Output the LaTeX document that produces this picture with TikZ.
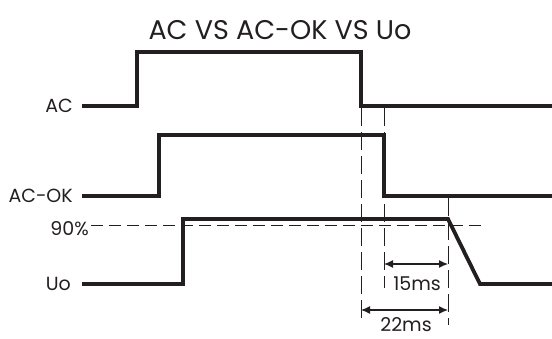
\documentclass[tikz,border=0pt]{standalone}
\usepackage{fontspec}
\setmainfont{Poppins}
\usetikzlibrary{arrows.meta}
\definecolor{ink}{HTML}{231F20}
\begin{document}
\begin{tikzpicture}[x=1pt,y=-1pt,
  sig/.style={line width=3.8pt, line join=miter, draw=ink},
  hguide/.style={line width=0.9pt, draw=ink, dash pattern=on 12pt off 6pt},
  vguide/.style={line width=0.9pt, draw=ink, dash pattern=on 18pt off 6pt},
  dim/.style={line width=1.2pt, draw=ink, {Latex[length=9pt,width=8pt]}-{Latex[length=9pt,width=8pt]}},
  lbl/.style={font=\fontsize{19}{19}\selectfont, text=ink, anchor=east, inner sep=0pt},
  dimlbl/.style={font=\fontsize{19}{19}\selectfont, text=ink, inner sep=0pt, text height=13pt, text depth=0pt, anchor=base}]
\useasboundingbox (0,0) rectangle (552,338);
\node[font=\fontsize{27}{27}\selectfont, text=ink, inner sep=0pt] (title) at (280,30) {AC VS AC-OK VS Uo};
% labels
\node[lbl] (ac) at (73,106) {AC};
\node[lbl] (acok) at (73,196) {AC-OK};
\node[lbl] (p90) at (89,229) {90\%};
\node[lbl] (uo) at (71,284) {Uo};
% signals
\draw[sig] (ac.east) ++(9,0) -- (137,106) -- (137,52) -- (361,52) -- (361,106) -- (552,106);
\draw[sig] (acok.east) ++(9,0) -- (159,196) -- (159,135) -- (384,135) -- (384,196) -- (552,196);
\draw[sig] (uo.east) ++(11,0) -- (183,284) -- (183,219) -- (448,219) -- (480,284) -- (552,284);
% guides
\coordinate (h0) at (91,225);
\coordinate (h1) at (484,225);
\draw[hguide] (h0) -- (h1);
\coordinate (v1a) at (361,108);
\coordinate (v1b) at (361,322);
\coordinate (v2a) at (384,108);
\coordinate (v2b) at (384,288);
\coordinate (v3a) at (448,198);
\coordinate (v3b) at (448,325);
\draw[vguide] (v1a) -- (v1b);
\draw[vguide] (v2a) -- (v2b);
\draw[vguide] (v3a) -- (v3b);
% dimensions
\coordinate (d15a) at (384,264);
\coordinate (d15b) at (448,264);
\coordinate (d22a) at (361,310);
\coordinate (d22b) at (448,310);
\draw[dim] (d15a) -- (d15b);
\draw[dim] (d22a) -- (d22b);
\node[dimlbl] (t15) at (417,290) {15ms};
\node[dimlbl] (t22) at (406,331) {22ms};
\end{tikzpicture}
\end{document}
